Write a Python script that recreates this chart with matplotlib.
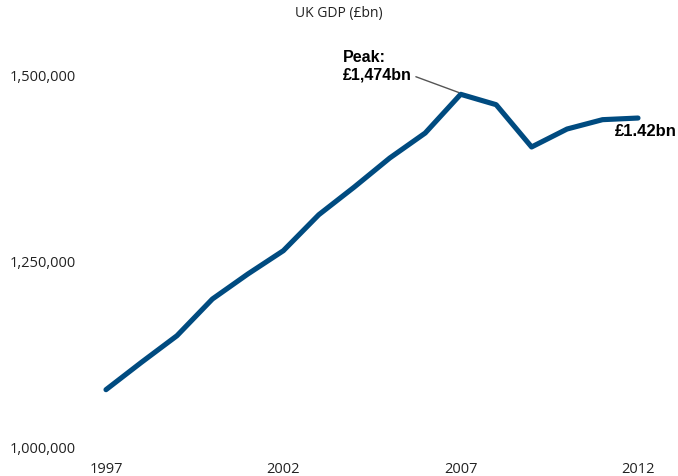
import numpy as np
from matplotlib import pyplot as plt
from matplotlib.ticker import FuncFormatter

years = [1997, 1998, 1999, 2000, 2001, 2002, 2003, 2004,
         2005, 2006, 2007, 2008, 2009, 2010, 2011, 2012]
gdp = [1075900, 1112800, 1148600, 1198100, 1231800, 1263200, 1311700, 1349000,
       1388100, 1421800, 1474000, 1460000, 1403000, 1427200, 1439800, 1442000]
yticks = [1000000, 1250000, 1500000]
xticks = [1997, 2002, 2007, 2012]
peak_year = 2007
peak_text = 'Peak:\n£1,474bn'
last_text = '£1.42bn'

blue = '#004b80'

fig = plt.figure(figsize=(6.78, 4.77), dpi=100)
ax = fig.add_axes([80/678, 30/477, 580/678, 387/477])

ax.plot(years, gdp, color=blue, lw=3.7, solid_capstyle='round', solid_joinstyle='round')

ax.set_xlim(1997 - 26/35.47, 2012 + 22/35.47)
ax.set_ylim(1000000, 1500000 + 16*1347.7)
ax.set_xticks(xticks)
ax.set_yticks(yticks)
ax.yaxis.set_major_formatter(FuncFormatter(lambda v, p: '{:,.0f}'.format(v)))
ax.tick_params(length=0, labelsize=10.5, colors='#222222')
ax.tick_params(axis='x', pad=11)
ax.tick_params(axis='y', pad=3)
for lab in ax.get_xticklabels() + ax.get_yticklabels():
    lab.set_family('Open Sans')
for s in ax.spines.values():
    s.set_visible(False)

fig.text(0.5, 1 - 14/477, 'UK GDP (£bn)', ha='center', va='center',
         fontsize=10, family='Open Sans', color='#222222')

peak_val = gdp[years.index(peak_year)]
ax.annotate(peak_text, xy=(peak_year - 0.06, peak_val + 2500), xytext=(2003.68, 1512800),
            ha='left', va='center', multialignment='left', fontsize=11.5, fontweight='bold',
            family='Liberation Sans', linespacing=1.2,
            arrowprops=dict(arrowstyle='-', color='#555555', lw=1, shrinkA=1, shrinkB=0,
                            relpos=(1.0, 0.2)))
ax.text(years[-1] - 0.65, gdp[-1] - 16500, last_text, ha='left', va='center',
        fontsize=12, fontweight='bold', family='Liberation Sans')

fig.savefig('out.png', dpi=100)
